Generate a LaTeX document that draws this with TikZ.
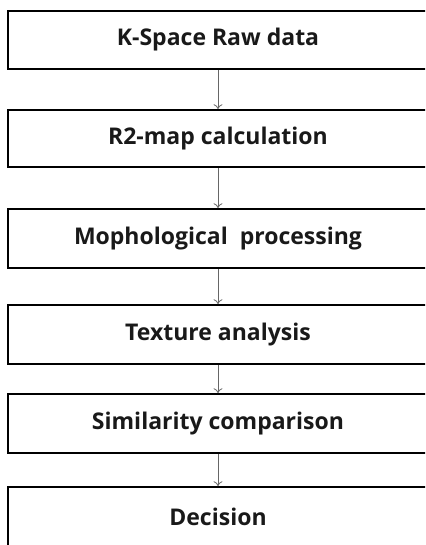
\documentclass[tikz,border=0pt]{standalone}
\usepackage{fontspec}
\setmainfont{Open Sans}
\usetikzlibrary{arrows.meta}
\begin{document}
\begin{tikzpicture}[x=1pt,y=-1pt,
  stepbox/.style={draw=black,line width=1.6pt,minimum width=420pt,inner sep=0pt,
    font=\fontsize{23}{27}\selectfont\bfseries,text=black!90},
  flow/.style={draw=black!60,line width=0.8pt,-{To[length=5pt,width=9pt]}}]
\useasboundingbox (0,0) rectangle (425,545);
\clip (0,0) rectangle (425,545);
\node[stepbox,minimum height=58pt] (a) at (218,40) {K-Space Raw data};
\node[stepbox,minimum height=57pt] (b) at (218,138.5) {R2-map calculation};
\node[stepbox,minimum height=59pt] (c) at (218,238.5) {Mophological\ \ processing};
\node[stepbox,minimum height=59pt] (d) at (218,334.5) {Texture analysis};
\node[stepbox,minimum height=59pt] (e) at (218,423.5) {Similarity comparison};
\node[stepbox,minimum height=60pt] (f) at (218,517) {Decision};
\draw[flow] (a) -- (b);
\draw[flow] (b) -- (c);
\draw[flow] (c) -- (d);
\draw[flow] (d) -- (e);
\draw[flow] (e) -- (f);
\end{tikzpicture}
\end{document}
